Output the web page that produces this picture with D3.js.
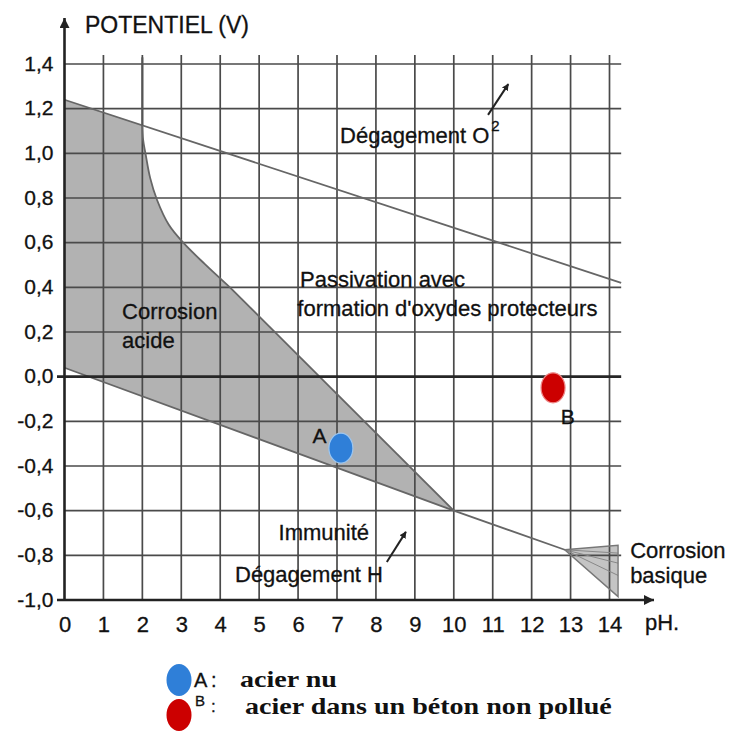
<!DOCTYPE html>
<html>
<head>
<meta charset="utf-8">
<script src="https://cdn.jsdelivr.net/npm/d3@7"></script>
<style>
  html,body{margin:0;padding:0;background:#fff;}
  svg{display:block;}
  .sans{font-family:"Liberation Sans",Arial,Helvetica,sans-serif;}
  .serif{font-family:"Liberation Serif","Times New Roman",serif;}
</style>
</head>
<body>
<svg id="chart" width="729" height="733"></svg>
<script>
// ---------- data ----------
const xTicks = [0,1,2,3,4,5,6,7,8,9,10,11,12,13,14];
const yTicks = [1.4,1.2,1.0,0.8,0.6,0.4,0.2,0.0,-0.2,-0.4,-0.6,-0.8,-1.0];
const yTickLabels = ["1,4","1,2","1,0","0,8","0,6","0,4","0,2","0,0","-0,2","-0,4","-0,6","-0,8","-1,0"];

// lines of the diagram [pH, potential]
const o2Line = [[0,1.24],[14.3,0.42]];
const h2Line = [[0,0.04],[10,-0.6],[12.85,-0.775]];
const feVertical = [[2.0,1.43],[2.0,1.125]];
const feCurve = [[2.0,1.125],[2.02,1.06],[2.08,1.0],[2.2,0.89],[2.38,0.79],[2.68,0.68],[3.05,0.6],[3.6,0.505],[4.25,0.4]];
const feStraight = [[4.25,0.4],[10,-0.6]];
const o2AcidPart = [[0,1.24],[2.0,1.125]];
const h2AcidPart = [[10,-0.6],[0,0.04]];
const basicRegion = [[12.85,-0.775],[14.22,-0.755],[14.22,-0.985]];
const basicHatch = [-0.79,-0.835,-0.89];

// measured points
const points = [
  {name:"A", ph:7.1,  e:-0.32, color:"#2f7fd8"},
  {name:"B", ph:12.55,e:-0.05, color:"#cc0000"}
];

// ---------- drawing ----------
const svg = d3.select("#chart");
const x = d3.scaleLinear().domain([0,14]).range([64.5,609.5]);
const y = d3.scaleLinear().domain([-1.0,1.4]).range([600,64]);
const xEnd = x(14.3), yTop = y(1.44);
const line = d3.line().x(d=>x(d[0])).y(d=>y(d[1]));
const smooth = d3.line().x(d=>x(d[0])).y(d=>y(d[1])).curve(d3.curveCatmullRom.alpha(0.5));

const defs = svg.append("defs");
defs.append("marker").attr("id","axArrow").attr("viewBox","0 0 10 10")
  .attr("refX",10).attr("refY",5).attr("markerWidth",10).attr("markerHeight",10)
  .attr("markerUnits","userSpaceOnUse").attr("orient","auto")
  .append("path").attr("d","M0,0L10,5L0,10Z").attr("fill","#222");
defs.append("marker").attr("id","smArrow").attr("viewBox","0 0 10 10")
  .attr("refX",9).attr("refY",5).attr("markerWidth",7).attr("markerHeight",7)
  .attr("markerUnits","userSpaceOnUse").attr("orient","auto")
  .append("path").attr("d","M0,0L10,5L0,10Z").attr("fill","#222");

// fills
const acidPath = line(o2AcidPart) + "L" + smooth(feCurve).slice(1) + "L" +
  line(feStraight).slice(1) + "L" + line(h2AcidPart).slice(1) + "Z";
svg.append("path").attr("d", acidPath).attr("fill","#b2b2b2");
svg.append("path").attr("d", line(basicRegion)+"Z").attr("fill","#c4c4c4");

// grid
svg.append("g").selectAll("line").data(xTicks.slice(1)).join("line")
  .attr("x1",d=>x(d)).attr("x2",d=>x(d)).attr("y1",yTop).attr("y2",y(-1.0))
  .attr("stroke","#4a4a4a").attr("stroke-width",1.7);
svg.append("g").selectAll("line").data(yTicks.filter(v=>v!==0 && v!==-1.0)).join("line")
  .attr("x1",x(0)).attr("x2",xEnd).attr("y1",d=>y(d)).attr("y2",d=>y(d))
  .attr("stroke","#4a4a4a").attr("stroke-width",1.7);

// hatch in basic corrosion wedge
svg.append("g").selectAll("line").data(basicHatch).join("line")
  .attr("x1",x(basicRegion[0][0])).attr("y1",y(basicRegion[0][1]))
  .attr("x2",x(basicRegion[1][0])).attr("y2",d=>y(d))
  .attr("stroke","#888").attr("stroke-width",1);
svg.append("path").attr("d", line(basicRegion)+"Z").attr("fill","none")
  .attr("stroke","#777").attr("stroke-width",1.4);

// diagram lines
svg.append("path").attr("d",line(o2Line)).attr("fill","none").attr("stroke","#666").attr("stroke-width",1.8);
svg.append("path").attr("d",line(h2Line)).attr("fill","none").attr("stroke","#666").attr("stroke-width",1.8);
svg.append("path").attr("d",line(feVertical)).attr("fill","none").attr("stroke","#555").attr("stroke-width",2);
svg.append("path").attr("d",smooth(feCurve)).attr("fill","none").attr("stroke","#666").attr("stroke-width",1.8);
svg.append("path").attr("d",line(feStraight)).attr("fill","none").attr("stroke","#666").attr("stroke-width",1.8);

// zero line
svg.append("line").attr("x1",57).attr("x2",xEnd).attr("y1",y(0)).attr("y2",y(0))
  .attr("stroke","#262626").attr("stroke-width",2.6);

// axes lines with arrows
svg.append("line").attr("x1",x(0)).attr("x2",x(0)).attr("y1",y(-1.0)+1).attr("y2",18)
  .attr("stroke","#222").attr("stroke-width",2.6).attr("marker-end","url(#axArrow)");
svg.append("line").attr("x1",57).attr("x2",654).attr("y1",y(-1.0)).attr("y2",y(-1.0))
  .attr("stroke","#222").attr("stroke-width",2.6).attr("marker-end","url(#axArrow)");

// tick labels via d3 axes
const yAxis = d3.axisLeft(y).tickValues(yTicks).tickSize(0).tickPadding(11)
  .tickFormat((d,i)=>yTickLabels[i]);
const gy = svg.append("g").attr("transform",`translate(${x(0)},0)`).call(yAxis);
gy.select(".domain").remove();
gy.selectAll("text").attr("class","sans").attr("font-size",21).attr("fill","#111")
  .attr("stroke","#111").attr("stroke-width",0.3).attr("dy","0.3em");

const xAxis = d3.axisBottom(x).tickValues(xTicks).tickSize(0).tickPadding(16).tickFormat(d=>String(d));
const gx = svg.append("g").attr("transform",`translate(0,${y(-1.0)})`).call(xAxis);
gx.select(".domain").remove();
gx.selectAll("text").attr("class","sans").attr("font-size",22).attr("fill","#111")
  .attr("stroke","#111").attr("stroke-width",0.3);

// text helper
const T = (txt, px, py, size, opts={}) => svg.append("text").attr("class", opts.cls||"sans")
  .attr("x",px).attr("y",py).attr("font-size",size).attr("fill",opts.fill||"#111")
  .attr("stroke",opts.noStroke?null:(opts.fill||"#111")).attr("stroke-width",opts.noStroke?null:0.3)
  .attr("font-weight",opts.weight||"normal").attr("text-anchor",opts.anchor||"start").text(txt);

T("POTENTIEL (V)", 85, 33, 23);
T("pH.", 645, 630, 22);

// region labels (positioned in data units)
T("Dégagement O", x(7.08), y(1.045), 22);
T("2", x(10.96), y(1.10), 15);
T("Passivation avec", x(6.05), y(0.40), 22);
T("formation d'oxydes protecteurs", x(5.98), y(0.27), 22);
T("Corrosion", x(1.48), y(0.26), 22);
T("acide", x(1.48), y(0.13), 22);
T("Immunité", x(5.5), y(-0.73), 22);
T("Dégagement H", x(4.38), y(-0.92), 22);
T("Corrosion", x(14.53), y(-0.81), 22);
T("basique", x(14.53), y(-0.925), 22);

// annotation arrows
svg.append("line").attr("x1",x(10.88)).attr("y1",y(1.172)).attr("x2",x(11.4)).attr("y2",y(1.31))
  .attr("stroke","#222").attr("stroke-width",2).attr("marker-end","url(#smArrow)");
svg.append("line").attr("x1",x(8.28)).attr("y1",y(-0.83)).attr("x2",x(8.77)).attr("y2",y(-0.695))
  .attr("stroke","#222").attr("stroke-width",2).attr("marker-end","url(#smArrow)");

// points
svg.append("g").selectAll("ellipse").data(points).join("ellipse")
  .attr("cx",d=>x(d.ph)).attr("cy",d=>y(d.e)).attr("rx",12).attr("ry",15)
  .attr("fill",d=>d.color).attr("stroke",d=>d.name==="A"?"#9cc6f0":"#e88").attr("stroke-width",1.2);
T("A", x(6.37), y(-0.295), 21);
T("B", x(12.75), y(-0.21), 21);

// legend
svg.append("ellipse").attr("cx",179).attr("cy",680).attr("rx",12.5).attr("ry",16).attr("fill",points[0].color);
svg.append("ellipse").attr("cx",179).attr("cy",715).attr("rx",12.5).attr("ry",16).attr("fill",points[1].color);
T("A", 194, 687, 20);
T(":", 211, 687, 20);
T("B", 195, 706, 15);
T(":", 211, 712, 17);
svg.append("text").attr("class","serif").attr("transform","translate(240,687) scale(1.17,1)")
  .attr("font-size",24).attr("font-weight","bold").attr("fill","#111").text("acier nu");
svg.append("text").attr("class","serif").attr("transform","translate(245,714) scale(1.17,1)")
  .attr("font-size",24).attr("font-weight","bold").attr("fill","#111").text("acier dans un béton non pollué");
</script>
</body>
</html>
